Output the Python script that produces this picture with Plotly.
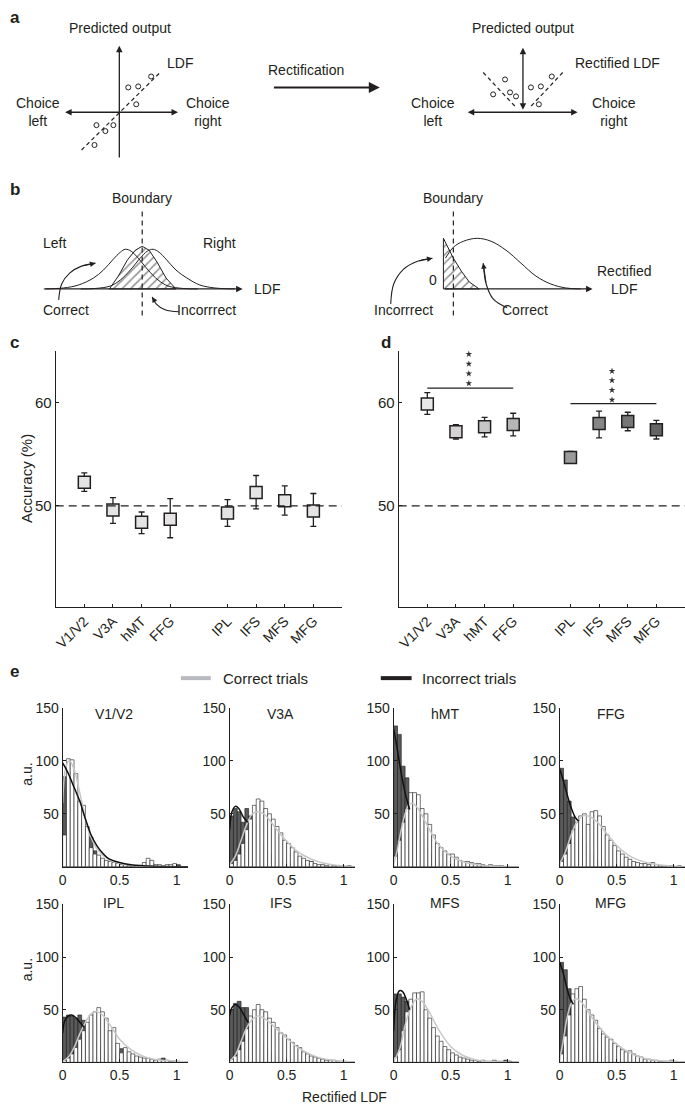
import numpy as np
import plotly.graph_objects as go

# ---------------- data ----------------
REGIONS = ["V1/V2", "V3A", "hMT", "FFG", "IPL", "IFS", "MFS", "MFG"]
REGION_POS = [1, 2, 3, 4, 6, 7, 8, 9]

# panel c: accuracy without rectification
ACC_C = [52.3, 49.6, 48.4, 48.7, 49.3, 51.3, 50.5, 49.5]
ACC_C_HI = [53.2, 50.8, 49.4, 50.7, 50.6, 52.95, 51.95, 51.2]
ACC_C_LO = [51.4, 48.3, 47.3, 46.9, 48.0, 49.7, 49.1, 48.0]

# panel d: accuracy with rectified LDF
ACC_D = [59.9, 57.2, 57.7, 57.9, 54.7, 58.0, 58.2, 57.4]
ACC_D_HI = [61.0, 57.9, 58.6, 59.0, 55.3, 59.2, 59.1, 58.3]
ACC_D_LO = [58.9, 56.5, 56.7, 56.8, 54.2, 56.6, 57.3, 56.5]
D_COLORS = ["#e8e8e8", "#d3d3d3", "#c6c6c6", "#b6b6b6",
            "#9a9a9a", "#868686", "#767676", "#646464"]

SIG_X0 = [1, 6]
SIG_X1 = [4, 9]
SIG_Y = [61.45, 59.94]
STAR_X = [2.45, 7.45]
STAR_Y1 = [61.9, 62.85, 63.8, 64.75]
STAR_Y2 = [60.3, 61.25, 62.2, 63.1]

# panel e: histograms (bins of width 1/30 from 0 to 1.1)
BIN_WIDTH = 1 / 30
CORRECT_V1V2 = [30, 102, 101, 88, 62, 58, 38, 18, 12, 11, 8, 6, 5, 4, 3, 2, 2, 1, 1, 1, 1, 4, 8, 6, 2, 2, 1, 2, 2, 3, 1, 0, 0]
INCORRECT_V1V2 = [85, 72, 62, 50, 42, 30, 22, 28, 15, 8, 6, 5, 4, 3, 3, 2, 1, 1, 1, 0, 0, 0, 2, 3, 1, 0, 0, 0, 1, 1, 2, 0, 0]
CORRECT_V3A = [3, 6, 12, 22, 35, 45, 58, 64, 62, 55, 50, 45, 38, 32, 25, 22, 18, 14, 10, 8, 6, 5, 3, 2, 2, 1, 2, 1, 1, 1, 0, 0, 0]
INCORRECT_V3A = [48, 55, 52, 42, 55, 48, 40, 30, 22, 15, 12, 10, 8, 6, 5, 4, 3, 3, 6, 2, 2, 5, 1, 1, 0, 0, 0, 0, 0, 0, 0, 1, 0]
CORRECT_HMT = [10, 25, 42, 55, 70, 70, 68, 55, 50, 40, 30, 22, 18, 15, 12, 12, 9, 6, 5, 5, 4, 3, 3, 2, 1, 2, 1, 1, 1, 0, 0, 0, 0]
INCORRECT_HMT = [133, 125, 95, 84, 60, 48, 35, 25, 18, 12, 8, 6, 5, 4, 3, 2, 2, 1, 1, 1, 1, 0, 0, 0, 0, 0, 0, 0, 0, 0, 0, 0, 0]
CORRECT_FFG = [5, 12, 22, 35, 42, 48, 50, 40, 52, 53, 48, 38, 30, 25, 20, 15, 12, 9, 7, 5, 4, 3, 3, 2, 4, 2, 1, 1, 1, 1, 0, 1, 0]
INCORRECT_FFG = [93, 82, 62, 47, 38, 30, 22, 16, 12, 8, 6, 5, 4, 3, 2, 2, 1, 1, 1, 0, 0, 0, 0, 0, 0, 0, 0, 0, 0, 0, 0, 0, 0]
CORRECT_IPL = [2, 4, 8, 14, 22, 30, 38, 45, 48, 52, 48, 42, 30, 33, 18, 9, 14, 10, 8, 6, 5, 4, 4, 3, 2, 3, 2, 2, 1, 1, 1, 0, 0]
INCORRECT_IPL = [43, 45, 44, 42, 45, 40, 32, 25, 20, 15, 12, 10, 8, 8, 10, 13, 5, 4, 3, 3, 2, 2, 2, 2, 1, 1, 4, 1, 1, 1, 0, 0, 0]
CORRECT_IFS = [3, 6, 12, 20, 32, 44, 50, 55, 50, 48, 42, 38, 33, 28, 26, 22, 19, 16, 14, 10, 8, 6, 5, 4, 3, 2, 2, 2, 1, 1, 1, 0, 0]
INCORRECT_IFS = [50, 56, 58, 52, 52, 40, 32, 25, 18, 14, 10, 8, 6, 5, 4, 3, 2, 2, 1, 1, 1, 1, 1, 0, 0, 0, 0, 0, 0, 0, 0, 0, 0]
CORRECT_MFS = [5, 12, 30, 48, 60, 66, 66, 67, 50, 42, 33, 25, 20, 15, 12, 9, 7, 5, 4, 3, 2, 2, 1, 2, 1, 1, 2, 1, 1, 1, 1, 0, 0]
INCORRECT_MFS = [65, 65, 62, 58, 40, 30, 22, 15, 10, 7, 5, 4, 3, 2, 2, 1, 1, 1, 1, 1, 0, 0, 0, 0, 0, 0, 0, 0, 0, 2, 1, 0, 0]
CORRECT_MFG = [8, 25, 45, 65, 70, 72, 60, 50, 45, 40, 32, 27, 24, 22, 18, 15, 12, 10, 11, 8, 6, 5, 3, 3, 2, 2, 1, 1, 1, 2, 1, 0, 0]
INCORRECT_MFG = [95, 88, 70, 60, 45, 35, 28, 20, 15, 12, 9, 7, 5, 4, 3, 3, 2, 2, 1, 0, 0, 0, 0, 0, 0, 0, 0, 0, 0, 0, 0, 0, 0]

# fitted curves (visible parts, x and y)
FIT_INC_X_V1V2 = [0, 0.05, 0.1, 0.15, 0.2, 0.25, 0.3, 0.35, 0.4, 0.5, 0.6, 0.8, 1.1]
FIT_INC_Y_V1V2 = [98, 88, 75, 62, 45, 30, 20, 13, 8, 4, 2, 0.5, 0]
FIT_COR_X_V1V2 = [0, 0.03, 0.06, 0.1, 0.15, 0.2, 0.25, 0.3, 0.4, 0.5, 0.6, 0.8, 1.1]
FIT_COR_Y_V1V2 = [60, 95, 100, 92, 70, 45, 28, 17, 7, 3, 1.5, 0.5, 0]
FIT_INC_X_V3A = [0, 0.02, 0.05, 0.08, 0.12, 0.16]
FIT_INC_Y_V3A = [35, 52, 57, 55, 47, 42]
FIT_COR_X_V3A = [0, 0.05, 0.1, 0.15, 0.2, 0.25, 0.3, 0.35, 0.4, 0.5, 0.6, 0.7, 0.8, 0.9, 1.1]
FIT_COR_Y_V3A = [2, 10, 25, 40, 50, 52, 50, 44, 37, 24, 14, 8, 4, 2, 0]
FIT_INC_X_HMT = [0, 0.03, 0.06, 0.1, 0.14]
FIT_INC_Y_HMT = [130, 112, 92, 70, 54]
FIT_COR_X_HMT = [0, 0.03, 0.06, 0.1, 0.13, 0.16, 0.2, 0.25, 0.3, 0.35, 0.4, 0.5, 0.6, 0.7, 0.8, 1.1]
FIT_COR_Y_HMT = [3, 15, 32, 50, 58, 60, 57, 48, 38, 28, 20, 10, 5, 2.5, 1, 0]
FIT_INC_X_FFG = [0, 0.03, 0.06, 0.1, 0.14, 0.17]
FIT_INC_Y_FFG = [92, 82, 70, 56, 46, 43]
FIT_COR_X_FFG = [0, 0.05, 0.1, 0.15, 0.2, 0.25, 0.3, 0.35, 0.4, 0.5, 0.6, 0.7, 0.8, 0.9, 1.1]
FIT_COR_Y_FFG = [3, 14, 30, 42, 48, 48, 45, 40, 33, 20, 11, 6, 3, 1.5, 0]
FIT_INC_X_IPL = [0, 0.02, 0.05, 0.08, 0.12, 0.16, 0.19]
FIT_INC_Y_IPL = [28, 40, 44, 45, 42, 37, 33]
FIT_COR_X_IPL = [0, 0.05, 0.1, 0.15, 0.2, 0.25, 0.3, 0.35, 0.4, 0.45, 0.5, 0.6, 0.7, 0.8, 1.0, 1.1]
FIT_COR_Y_IPL = [1, 5, 14, 27, 38, 46, 48, 45, 38, 30, 22, 12, 6, 3, 1, 0]
FIT_INC_X_IFS = [0, 0.02, 0.05, 0.08, 0.12, 0.16]
FIT_INC_Y_IFS = [45, 52, 55, 53, 46, 38]
FIT_COR_X_IFS = [0, 0.05, 0.1, 0.15, 0.2, 0.25, 0.3, 0.35, 0.4, 0.5, 0.6, 0.7, 0.8, 0.9, 1.1]
FIT_COR_Y_IFS = [1, 7, 20, 33, 41, 44, 42, 38, 33, 23, 14, 8, 4, 2, 0]
FIT_INC_X_MFS = [0, 0.02, 0.05, 0.08, 0.11, 0.14]
FIT_INC_Y_MFS = [30, 58, 68, 67, 60, 50]
FIT_COR_X_MFS = [0, 0.05, 0.1, 0.15, 0.2, 0.25, 0.3, 0.35, 0.4, 0.5, 0.6, 0.7, 0.8, 1.1]
FIT_COR_Y_MFS = [1, 12, 35, 52, 60, 58, 50, 40, 30, 15, 7, 3, 1, 0]
FIT_INC_X_MFG = [0, 0.03, 0.06, 0.09, 0.12]
FIT_INC_Y_MFG = [95, 85, 72, 61, 55]
FIT_COR_X_MFG = [0, 0.03, 0.06, 0.1, 0.13, 0.16, 0.2, 0.25, 0.3, 0.4, 0.5, 0.6, 0.7, 0.8, 1.1]
FIT_COR_Y_MFG = [3, 20, 40, 56, 60, 60, 56, 48, 40, 27, 17, 10, 5, 2.5, 0]

HIST_CORRECT = [CORRECT_V1V2, CORRECT_V3A, CORRECT_HMT, CORRECT_FFG,
                CORRECT_IPL, CORRECT_IFS, CORRECT_MFS, CORRECT_MFG]
HIST_INCORRECT = [INCORRECT_V1V2, INCORRECT_V3A, INCORRECT_HMT, INCORRECT_FFG,
                  INCORRECT_IPL, INCORRECT_IFS, INCORRECT_MFS, INCORRECT_MFG]
FITS_INC = [(FIT_INC_X_V1V2, FIT_INC_Y_V1V2), (FIT_INC_X_V3A, FIT_INC_Y_V3A),
            (FIT_INC_X_HMT, FIT_INC_Y_HMT), (FIT_INC_X_FFG, FIT_INC_Y_FFG),
            (FIT_INC_X_IPL, FIT_INC_Y_IPL), (FIT_INC_X_IFS, FIT_INC_Y_IFS),
            (FIT_INC_X_MFS, FIT_INC_Y_MFS), (FIT_INC_X_MFG, FIT_INC_Y_MFG)]
FITS_COR = [(FIT_COR_X_V1V2, FIT_COR_Y_V1V2), (FIT_COR_X_V3A, FIT_COR_Y_V3A),
            (FIT_COR_X_HMT, FIT_COR_Y_HMT), (FIT_COR_X_FFG, FIT_COR_Y_FFG),
            (FIT_COR_X_IPL, FIT_COR_Y_IPL), (FIT_COR_X_IFS, FIT_COR_Y_IFS),
            (FIT_COR_X_MFS, FIT_COR_Y_MFS), (FIT_COR_X_MFG, FIT_COR_Y_MFG)]

# ---------------- layout helpers ----------------
W, H = 685, 1108
FONT = "Liberation Sans, Arial, sans-serif"
INK = "#231f20"
DARK = "#5a5a5a"
LIGHT_FIT = "#c8c8c8"


def px(x):
    return x / W


def py(y):
    return 1 - y / H


fig = go.Figure()
annotations = []
shapes = []


def txt(x, y, s, size=14, xref="x", yref="y", **kw):
    d = dict(x=x, y=y, text=s, xref=xref, yref=yref, showarrow=False,
             font=dict(family=FONT, size=size, color=INK))
    d.update(kw)
    annotations.append(d)


def arrow(x0, y0, x1, y1, both=False, width=1.3, size=1.0):
    annotations.append(dict(
        x=x1, y=y1, ax=x0, ay=y0, xref="x", yref="y", axref="x", ayref="y",
        text="", showarrow=True, arrowhead=2, arrowsize=size, arrowwidth=width,
        arrowcolor=INK, arrowside="end+start" if both else "end",
        startarrowhead=2, startarrowsize=size, standoff=0, startstandoff=0))


def sline(xs, ys, dash=None, width=1.2, shape="linear", color=INK):
    fig.add_trace(go.Scatter(x=xs, y=ys, mode="lines", xaxis="x", yaxis="y",
                             line=dict(color=color, width=width, dash=dash, shape=shape),
                             hoverinfo="skip", showlegend=False))


def circles(xs, ys):
    fig.add_trace(go.Scatter(x=xs, y=ys, mode="markers", xaxis="x", yaxis="y",
                             marker=dict(symbol="circle-open", size=5,
                                         color=INK, line=dict(width=1)),
                             hoverinfo="skip", showlegend=False))


def curved_arrow(xs, ys):
    sline(xs, ys, width=1.1, shape="spline")
    arrow(xs[-2], ys[-2], xs[-1], ys[-1], width=1.1, size=1.0)


# ---------------- panel a (schematic, pixel space) ----------------
txt(117, 20, "Predicted output")
arrow(116, 152, 116, 38)
arrow(60, 105, 175, 105, both=True)
txt(34, 105, "Choice<br>left")
txt(205, 105, "Choice<br>right")
txt(177, 55, "LDF")
sline([78, 156], [143, 66], dash="4px,3px")
circles([93, 102, 110, 91, 125, 135, 133, 148], [118, 124, 118, 138, 80, 79, 97, 69])

txt(304, 62, "Rectification")
arrow(270, 80, 378, 80, width=2, size=1.1)

txt(522, 20, "Predicted output")
arrow(522, 104, 522, 40, both=True)
arrow(465, 105, 577, 105, both=True)
txt(432, 105, "Choice<br>left")
txt(614, 105, "Choice<br>right")
txt(617, 55, "Rectified LDF")
sline([482, 514], [65, 99], dash="4px,3px")
sline([562, 530], [65, 99], dash="4px,3px")
circles([504, 492, 509, 515, 530, 540, 551, 538], [72, 87, 85, 89, 80, 79, 69, 97])

# ---------------- panel b (schematic) ----------------
LEFT_CURVE_X = [40, 60, 75, 90, 100, 110, 117, 122, 128, 135, 145, 155, 165, 180, 195]
LEFT_CURVE_Y = [283, 282, 279, 272, 264, 253, 246, 243, 245, 252, 264, 274, 280, 282.5, 283]
RIGHT_CURVE_X = [77, 92, 107, 117, 127, 137, 144, 150, 156, 163, 173, 184, 197, 212, 232]
RIGHT_CURVE_Y = [283, 282.5, 280, 274, 264, 252, 245, 243, 246, 253, 264, 272, 279, 282, 283]
HATCH_L_X = [106, 115, 124, 132, 139, 146, 154, 163, 173, 106]
HATCH_L_Y = [283, 270, 254, 244, 240, 244, 256, 272, 283, 283]

fig.add_trace(go.Scatter(x=HATCH_L_X, y=HATCH_L_Y, mode="lines", fill="toself",
                         xaxis="x", yaxis="y", line=dict(color=INK, width=1),
                         fillcolor="white",
                         fillpattern=dict(shape="/", fgcolor=INK, bgcolor="white",
                                          size=6, solidity=0.25),
                         hoverinfo="skip", showlegend=False))
sline(LEFT_CURVE_X, LEFT_CURVE_Y, width=1, shape="spline")
sline(RIGHT_CURVE_X, RIGHT_CURVE_Y, width=1, shape="spline")
sline([139, 139], [205, 310], dash="5px,4px", width=1.2)
arrow(40, 283, 240, 283)
txt(139, 191, "Boundary")
txt(265, 283, "LDF")
txt(51, 237, "Left")
txt(217, 237, "Right")
txt(62, 304, "Correct")
txt(204, 304, "Incorrrect")
curved_arrow([55, 58, 66, 78, 92], [294, 278, 267, 260, 257])
curved_arrow([176, 162, 153, 149], [306, 304, 298, 291])

HATCH_R_X = [442, 446, 452, 460, 468, 478, 442, 442]
HATCH_R_Y = [232, 240, 252, 265, 276, 283, 283, 232]
RECT_CURVE_X = [444, 452, 462, 476, 490, 505, 520, 535, 550, 565, 580]
RECT_CURVE_Y = [252, 241, 235, 232, 235, 244, 257, 270, 278, 282, 283]
fig.add_trace(go.Scatter(x=HATCH_R_X, y=HATCH_R_Y, mode="lines", fill="toself",
                         xaxis="x", yaxis="y", line=dict(color=INK, width=1),
                         fillcolor="white",
                         fillpattern=dict(shape="/", fgcolor=INK, bgcolor="white",
                                          size=6, solidity=0.25),
                         hoverinfo="skip", showlegend=False))
sline(RECT_CURVE_X, RECT_CURVE_Y, width=1, shape="spline")
sline([452, 452], [205, 310], dash="5px,4px", width=1.2)
arrow(442, 283, 592, 283)
txt(452, 191, "Boundary")
txt(432, 274, "0")
txt(624, 274, "Rectified<br>LDF")
txt(402, 304, "Incorrrect")
txt(524, 304, "Correct")
curved_arrow([389, 392, 402, 416, 431], [298, 278, 263, 255, 252])
curved_arrow([506, 492, 485, 482], [302, 293, 278, 257])

# ---------------- panels c & d ----------------
def err(vals, hi, lo):
    return [h - v for v, h in zip(vals, hi)], [v - l for v, l in zip(vals, lo)]


up_c, dn_c = err(ACC_C, ACC_C_HI, ACC_C_LO)
fig.add_trace(go.Scatter(x=REGION_POS, y=ACC_C, mode="markers", xaxis="x2", yaxis="y2",
                         marker=dict(symbol="square", size=12, color="#e4e4e4",
                                     line=dict(color=INK, width=1.5)),
                         error_y=dict(type="data", symmetric=False, array=up_c,
                                      arrayminus=dn_c, color=INK, thickness=1.3, width=3),
                         showlegend=False))
up_d, dn_d = err(ACC_D, ACC_D_HI, ACC_D_LO)
fig.add_trace(go.Scatter(x=REGION_POS, y=ACC_D, mode="markers", xaxis="x3", yaxis="y3",
                         marker=dict(symbol="square", size=12, color=D_COLORS,
                                     line=dict(color=INK, width=1.5)),
                         error_y=dict(type="data", symmetric=False, array=up_d,
                                      arrayminus=dn_d, color=INK, thickness=1.3, width=3),
                         showlegend=False))
for sx, sy in zip(STAR_X, [STAR_Y1, STAR_Y2]):
    fig.add_trace(go.Scatter(x=[sx] * len(sy), y=sy, mode="markers", xaxis="x3", yaxis="y3",
                             marker=dict(symbol="star", size=5, color="#333333"),
                             hoverinfo="skip", showlegend=False))
for x0, x1, yv in zip(SIG_X0, SIG_X1, SIG_Y):
    shapes.append(dict(type="line", xref="x3", yref="y3", x0=x0, x1=x1, y0=yv, y1=yv,
                       line=dict(color=INK, width=1.2)))
for ax in ["x2", "x3"]:
    shapes.append(dict(type="line", xref=ax + " domain", yref="y" + ax[1:], x0=0, x1=1,
                       y0=50, y1=50, line=dict(color=INK, width=1.3, dash="8px,5px")))

# ---------------- panel e histograms ----------------
n_bins = len(CORRECT_V1V2)
centers = (np.arange(n_bins) + 0.5) * BIN_WIDTH
for k in range(8):
    xa = "x%d" % (k + 4)
    ya = "y%d" % (k + 4)
    fig.add_trace(go.Bar(x=centers, y=HIST_INCORRECT[k], width=BIN_WIDTH, xaxis=xa, yaxis=ya,
                         marker=dict(color=DARK, line=dict(color="#1a1a1a", width=0.6)),
                         showlegend=False))
    fig.add_trace(go.Bar(x=centers, y=HIST_CORRECT[k], width=BIN_WIDTH, xaxis=xa, yaxis=ya,
                         marker=dict(color="white", line=dict(color="#1a1a1a", width=0.6)),
                         showlegend=False))
    fx, fy = FITS_COR[k]
    fig.add_trace(go.Scatter(x=fx, y=fy, mode="lines", xaxis=xa, yaxis=ya,
                             line=dict(color=LIGHT_FIT, width=1.5, shape="spline"),
                             showlegend=False))
    fx, fy = FITS_INC[k]
    fig.add_trace(go.Scatter(x=fx, y=fy, mode="lines", xaxis=xa, yaxis=ya,
                             line=dict(color="#111111", width=1.5, shape="spline"),
                             showlegend=False))

# ---------------- axes ----------------
layout = dict(
    width=W, height=H, margin=dict(l=0, r=0, t=0, b=0), autosize=False,
    paper_bgcolor="white", plot_bgcolor="rgba(0,0,0,0)", barmode="overlay",
    font=dict(family=FONT, color=INK),
)
layout["xaxis"] = dict(domain=[0, 1], range=[0, W], visible=False, fixedrange=True)
layout["yaxis"] = dict(domain=[py(320), 1], range=[320, 0], visible=False, fixedrange=True)

base = dict(showgrid=False, zeroline=False, showline=True, linecolor=INK, linewidth=1,
            ticks="inside", ticklen=3, tickcolor=INK, tickwidth=1)
for i, (x0, x1) in zip([2, 3], [(52, 340), (397, 685)]):
    layout["xaxis%d" % i] = dict(base, domain=[px(x0), px(x1)], range=[0, 10],
                                 tickvals=REGION_POS, ticktext=REGIONS, tickangle=-45,
                                 tickfont=dict(size=14, family=FONT, color=INK),
                                 anchor="y%d" % i)
    layout["yaxis%d" % i] = dict(base, domain=[py(603), py(345)], range=[40.2, 65.1],
                                 tickvals=[50, 60], tickfont=dict(size=15, family=FONT, color=INK),
                                 anchor="x%d" % i)

COL_X = [59, 227, 392, 559]
ROW_Y = [(705, 865), (903, 1062)]
for k in range(8):
    r, c = divmod(k, 4)
    i = k + 4
    top, bot = ROW_Y[r]
    layout["xaxis%d" % i] = dict(base, domain=[px(COL_X[c]), px(min(COL_X[c] + 126, W))],
                                 range=[0, 1.1], tickvals=[0, 0.5, 1], ticktext=["0", "0.5", "1"],
                                 tickfont=dict(size=14, family=FONT, color=INK),
                                 anchor="y%d" % i)
    layout["yaxis%d" % i] = dict(base, domain=[py(bot), py(top)], range=[0, 150],
                                 tickvals=[50, 100, 150],
                                 tickfont=dict(size=14, family=FONT, color=INK),
                                 anchor="x%d" % i)
    txt(0.45, py(711 if r == 0 else 912), REGIONS[k], xref="x%d" % i, yref="paper")

# ---------------- labels ----------------
for lab, x, y in [("a", 4, 10), ("b", 4, 183), ("c", 4, 337), ("d", 377, 337), ("e", 4, 668)]:
    txt(px(x), py(y), "<b>%s</b>" % lab, size=17, xref="paper", yref="paper",
        xanchor="left", yanchor="middle")
txt(px(12), py(474), "Accuracy (%)", size=15, xref="paper", yref="paper", textangle=-90)
txt(px(13), py(785), "a.u.", size=14, xref="paper", yref="paper", textangle=-90)
txt(px(13), py(982), "a.u.", size=14, xref="paper", yref="paper", textangle=-90)
txt(px(342), py(1107), "Rectified LDF", size=14, xref="paper", yref="paper",
    yanchor="bottom")

# legend
shapes.append(dict(type="line", xref="paper", yref="paper", x0=px(178), x1=px(208),
                   y0=py(675), y1=py(675), line=dict(color="#b9b9c1", width=4)))
shapes.append(dict(type="line", xref="paper", yref="paper", x0=px(379), x1=px(410),
                   y0=py(675), y1=py(675), line=dict(color="#231f20", width=4)))
txt(px(218), py(675), "Correct trials", size=15, xref="paper", yref="paper", xanchor="left")
txt(px(418), py(675), "Incorrect trials", size=15, xref="paper", yref="paper", xanchor="left")

layout["annotations"] = annotations
layout["shapes"] = shapes
fig.update_layout(**layout)

fig.write_html("out.html", config={"displayModeBar": False},
               post_script="document.body.style.margin='0';document.body.style.overflow='hidden';")
